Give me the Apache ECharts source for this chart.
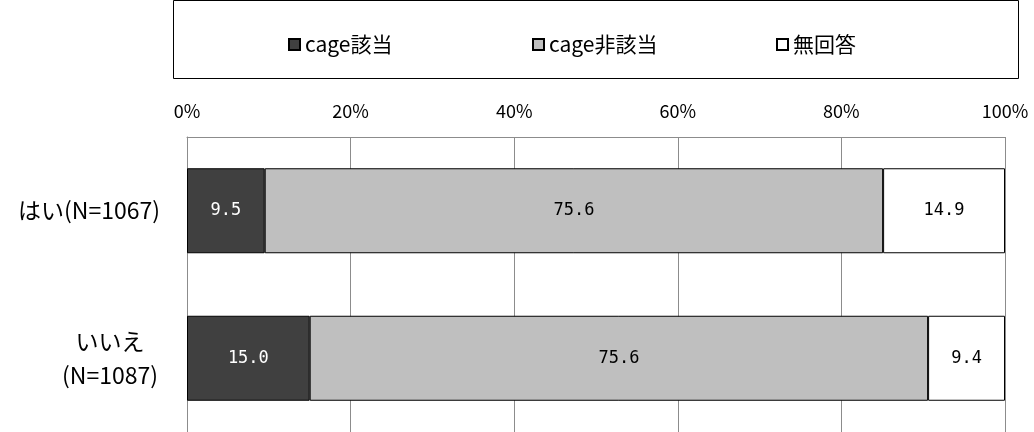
<!DOCTYPE html>
<html>
<head>
<meta charset="utf-8">
<script src="https://cdn.jsdelivr.net/npm/echarts@6/dist/echarts.min.js"></script>
<style>
  html, body { margin: 0; padding: 0; background: #fff; }
  #main { width: 1034px; height: 432px; }
</style>
</head>
<body>
<div id="main"></div>
<script>
var categories = ['はい(N=1067)', 'いいえ\n(N=1087)'];
var seriesNames = ['cage該当', 'cage非該当', '無回答'];
var gaitou = [9.5, 15.0];
var higaitou = [75.6, 75.6];
var mukaitou = [14.9, 9.4];
var xTicks = [0, 20, 40, 60, 80, 100];

var colors = ['#404040', '#bfbfbf', '#ffffff'];
var labelColors = ['#ffffff', '#000000', '#000000'];
var values = [gaitou, higaitou, mukaitou];
var legendLefts = [283, 527, 771];

var chart = echarts.init(document.getElementById('main'));

var series = [];
var legends = [];
for (var i = 0; i < seriesNames.length; i++) {
  series.push({
    name: seriesNames[i],
    type: 'bar',
    stack: 'all',
    barWidth: 85,
    data: values[i],
    itemStyle: {
      color: colors[i],
      borderColor: '#000',
      borderWidth: 1
    },
    label: {
      show: true,
      position: 'inside',
      color: labelColors[i],
      fontFamily: 'DejaVu Sans Mono',
      fontSize: 17,
      formatter: function (p) { return p.value.toFixed(1); }
    }
  });
  // one legend per item so each sits where the reference puts it
  legends.push({
    left: legendLefts[i],
    top: 29,
    itemWidth: 11,
    itemHeight: 11,
    icon: 'rect',
    textStyle: {
      fontFamily: 'Noto Sans CJK JP',
      fontSize: 21,
      color: '#000'
    },
    data: [seriesNames[i]]
  });
}

var option = {
  animation: false,
  graphic: [{
    type: 'rect',
    shape: { x: 173.5, y: 0.5, width: 845, height: 78 },
    style: { fill: 'none', stroke: '#000', lineWidth: 1 }
  }],
  legend: legends,
  grid: {
    left: 187,
    top: 137,
    width: 818,
    height: 297
  },
  xAxis: {
    type: 'value',
    position: 'top',
    min: 0,
    max: 100,
    interval: 20,
    axisLine: { show: true, lineStyle: { color: '#8c8c8c' } },
    axisTick: { show: false },
    splitLine: { lineStyle: { color: '#8c8c8c', width: 1 } },
    axisLabel: {
      margin: 17,
      fontFamily: 'Noto Sans CJK JP',
      fontSize: 18,
      color: '#000',
      formatter: function (v) { return xTicks.indexOf(v) >= 0 ? v + '%' : ''; }
    }
  },
  yAxis: {
    type: 'category',
    inverse: true,
    data: categories,
    axisLine: { show: true, lineStyle: { color: '#8c8c8c' } },
    axisTick: { show: false },
    axisLabel: {
      margin: 27,
      fontFamily: 'Noto Sans CJK JP',
      fontSize: 23,
      color: '#000',
      lineHeight: 34,
      formatter: function (v) {
        var parts = v.split('\n');
        if (parts.length === 1) return v;
        return parts.map(function (s) { return '{c|' + s + '}'; }).join('\n');
      },
      rich: {
        c: {
          width: 100,
          align: 'center',
          fontFamily: 'Noto Sans CJK JP',
          fontSize: 23,
          lineHeight: 34,
          color: '#000'
        }
      }
    }
  },
  series: series
};

chart.setOption(option);
</script>
</body>
</html>
